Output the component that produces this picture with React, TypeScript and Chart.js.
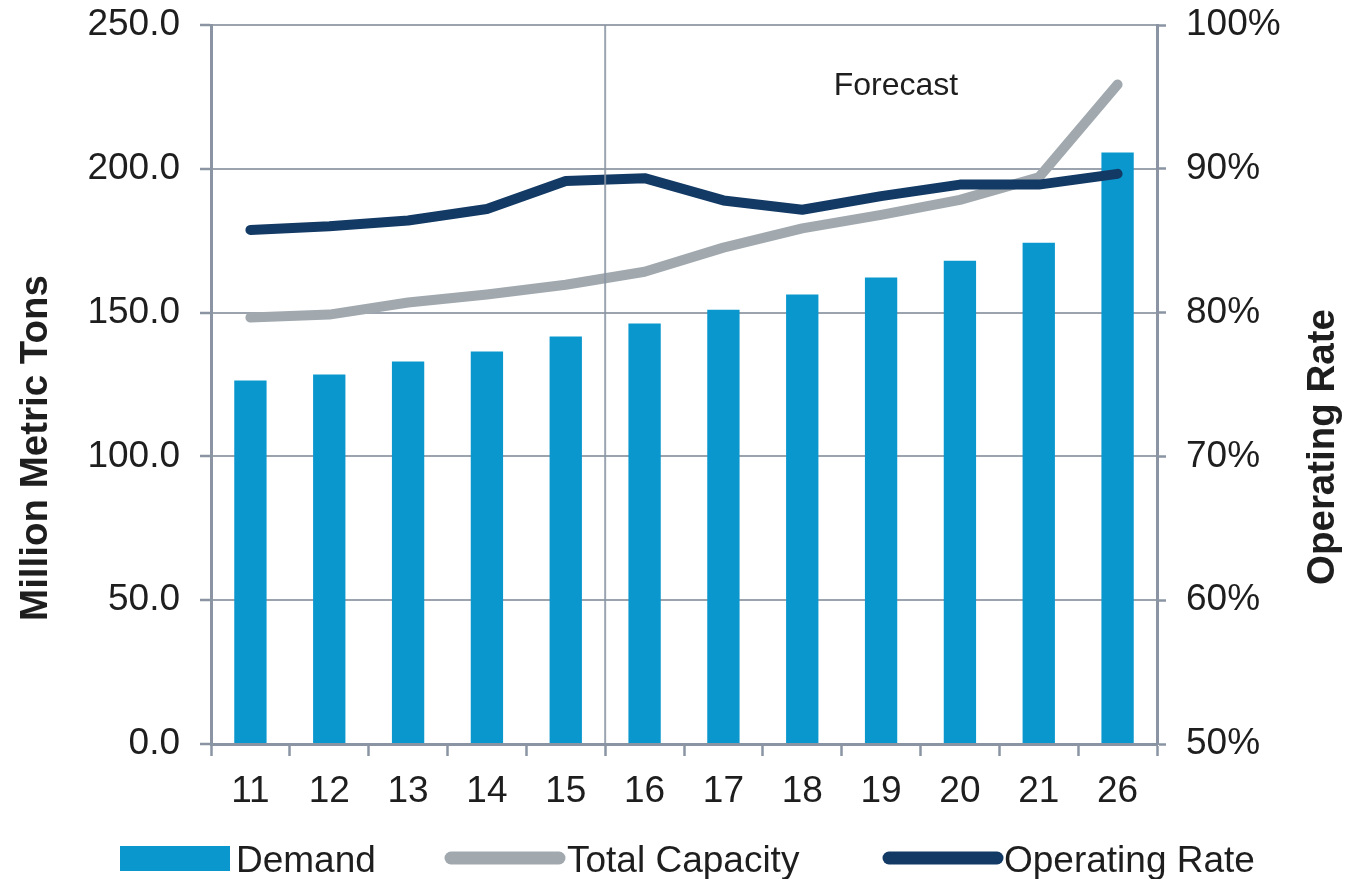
import React, { useEffect, useRef } from "react";
import { Chart, registerables } from "chart.js";

Chart.register(...registerables);

const categories = ["11", "12", "13", "14", "15", "16", "17", "18", "19", "20", "21", "26"];
const demand = [126.4, 128.5, 133.0, 136.5, 141.7, 146.2, 151.0, 156.3, 162.2, 168.0, 174.3, 205.7];
const totalCapacity = [148.3, 149.3, 153.5, 156.3, 159.7, 164.2, 172.6, 179.3, 184.0, 189.2, 197.0, 229.3];
const operatingRate = [85.75, 86.0, 86.4, 87.2, 89.15, 89.35, 87.8, 87.15, 88.1, 88.9, 88.9, 89.65];

const leftTitle = "Million Metric Tons";
const rightTitle = "Operating Rate";
const forecastLabel = "Forecast";
const seriesNames = ["Demand", "Total Capacity", "Operating Rate"];

const FONT = '"Liberation Sans", Arial, sans-serif';
const BAR = "#0A97CE";
const CAP = "#A1A9AF";
const OPR = "#133A65";
const AXIS = "#8A94A3";
const GRID = "#9BA3AF";
const TEXT = "#1E1E1E";

const overlayPlugin = {
  id: "overlay",
  afterDatasetsDraw(chart: any) {
    const { ctx, chartArea, scales } = chart;
    const x = scales.x;
    const xd = (x.getPixelForValue(4) + x.getPixelForValue(5)) / 2;
    ctx.save();
    ctx.strokeStyle = AXIS;
    ctx.globalAlpha = 0.85;
    ctx.lineWidth = 2;
    ctx.beginPath();
    ctx.moveTo(xd, chartArea.top);
    ctx.lineTo(xd, chartArea.bottom);
    ctx.stroke();
    ctx.restore();
  },
  afterDraw(chart: any) {
    const { ctx, chartArea } = chart;
    ctx.save();
    ctx.fillStyle = TEXT;
    ctx.font = `32px ${FONT}`;
    ctx.textAlign = "center";
    ctx.textBaseline = "alphabetic";
    ctx.fillText(forecastLabel, chartArea.left + 0.724 * (chartArea.right - chartArea.left), 95);

    ctx.font = `bold 38.5px ${FONT}`;
    ctx.save();
    ctx.translate(47, 448);
    ctx.rotate(-Math.PI / 2);
    ctx.fillText(leftTitle, 0, 0);
    ctx.restore();
    ctx.save();
    ctx.translate(1334, 447);
    ctx.rotate(-Math.PI / 2);
    ctx.fillText(rightTitle, 0, 0);
    ctx.restore();

    ctx.font = `37px ${FONT}`;
    ctx.textAlign = "left";
    const base = 872;
    const mid = 858;
    const ds = chart.data.datasets;
    ctx.fillStyle = ds[0].backgroundColor;
    ctx.fillRect(120, 846, 110, 25);
    ctx.fillStyle = TEXT;
    ctx.fillText(ds[0].label, 236, base);
    ctx.strokeStyle = ds[1].borderColor;
    ctx.lineWidth = 13;
    ctx.lineCap = "round";
    ctx.beginPath();
    ctx.moveTo(451, mid);
    ctx.lineTo(559, mid);
    ctx.stroke();
    ctx.fillText(ds[1].label, 567, base);
    ctx.strokeStyle = ds[2].borderColor;
    ctx.beginPath();
    ctx.moveTo(889, mid);
    ctx.lineTo(997, mid);
    ctx.stroke();
    ctx.fillText(ds[2].label, 1004, base);
    ctx.restore();
  },
};

export default function App() {
  const ref = useRef<HTMLCanvasElement | null>(null);
  useEffect(() => {
    if (!ref.current) return;
    const chart = new Chart(ref.current, {
      type: "bar",
      data: {
        labels: categories,
        datasets: [
          {
            type: "bar",
            label: seriesNames[0],
            data: demand,
            backgroundColor: BAR,
            yAxisID: "y",
            order: 3,
            categoryPercentage: 1,
            barPercentage: 0.41,
          },
          {
            type: "line",
            label: seriesNames[1],
            data: totalCapacity,
            borderColor: CAP,
            backgroundColor: CAP,
            borderWidth: 10,
            pointRadius: 0,
            tension: 0,
            borderCapStyle: "round",
            borderJoinStyle: "round",
            yAxisID: "y",
            order: 2,
          },
          {
            type: "line",
            label: seriesNames[2],
            data: operatingRate,
            borderColor: OPR,
            backgroundColor: OPR,
            borderWidth: 10,
            pointRadius: 0,
            tension: 0,
            borderCapStyle: "round",
            borderJoinStyle: "round",
            yAxisID: "y1",
            order: 1,
          },
        ] as any,
      },
      options: {
        responsive: false,
        animation: false,
        layout: { padding: { top: 25, bottom: 75, left: 0, right: 0 } },
        plugins: {
          legend: { display: false },
          tooltip: { enabled: false },
        },
        scales: {
          x: {
            offset: true,
            grid: {
              offset: true,
              drawOnChartArea: false,
              drawTicks: true,
              tickLength: 12,
              tickColor: AXIS,
              tickWidth: 2.5,
            },
            border: { display: true, color: AXIS, width: 3 },
            ticks: {
              color: TEXT,
              font: { family: FONT, size: 37 },
              padding: 14,
              maxRotation: 0,
            },
            afterFit: (s: any) => {
              s.height = 60;
            },
          },
          y: {
            position: "left",
            min: 0,
            max: 250,
            ticks: {
              stepSize: 50,
              color: TEXT,
              font: { family: FONT, size: 37 },
              padding: 20,
              callback: (v: any) => Number(v).toFixed(1),
            },
            grid: {
              color: GRID,
              lineWidth: 2,
              drawTicks: true,
              tickLength: 11,
              tickColor: AXIS,
              tickWidth: 2.5,
            },
            border: { display: true, color: AXIS, width: 3 },
            afterFit: (s: any) => {
              s.width = 211;
              s.paddingTop = 0;
              s.paddingBottom = 0;
            },
          },
          y1: {
            position: "right",
            min: 50,
            max: 100,
            ticks: {
              stepSize: 10,
              color: TEXT,
              font: { family: FONT, size: 37 },
              padding: 20,
              callback: (v: any) => `${v}%`,
            },
            grid: {
              drawOnChartArea: false,
              drawTicks: true,
              tickLength: 9,
              tickColor: AXIS,
              tickWidth: 2.5,
            },
            border: { display: true, color: AXIS, width: 3 },
            afterFit: (s: any) => {
              s.width = 190;
              s.paddingTop = 0;
              s.paddingBottom = 0;
            },
          },
        },
      },
      plugins: [overlayPlugin],
    });
    return () => chart.destroy();
  }, []);

  return (
    <div style={{ position: "absolute", left: 0, top: 0, width: 1347, height: 879, background: "#fff" }}>
      <canvas ref={ref} width={1347} height={879} style={{ display: "block" }} />
    </div>
  );
}
